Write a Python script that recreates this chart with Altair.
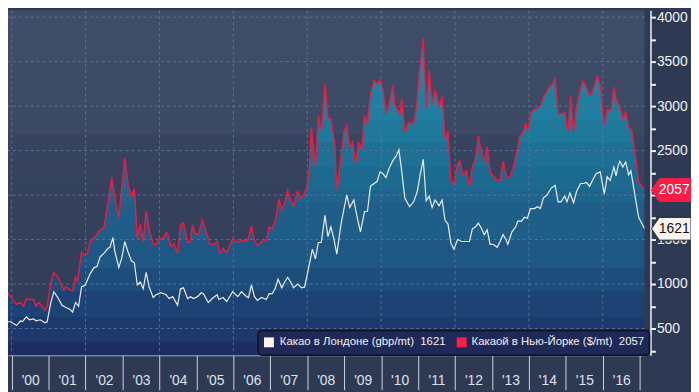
import altair as alt
import pandas as pd

# ---- data (decimal year, price) ----
ny_year = [
    1999.79, 1999.92, 1999.97,
    2000.13, 2000.24, 2000.32, 2000.40, 2000.51, 2000.59, 2000.66, 2000.74, 2000.90, 2000.96,
    2001.06, 2001.14, 2001.25, 2001.41, 2001.46, 2001.65, 2001.73, 2001.78, 2001.89, 2001.97,
    2002.05, 2002.13, 2002.26, 2002.37, 2002.50, 2002.61, 2002.71, 2002.82, 2002.90,
    2003.06, 2003.16, 2003.24, 2003.32, 2003.40, 2003.48, 2003.56, 2003.64, 2003.72, 2003.83, 2003.91, 2003.99,
    2004.10, 2004.18, 2004.23, 2004.31, 2004.39, 2004.49, 2004.57, 2004.65, 2004.76, 2004.84, 2004.89, 2004.97,
    2005.05, 2005.16, 2005.29, 2005.37, 2005.45, 2005.56, 2005.64, 2005.72, 2005.82, 2005.98,
    2006.12, 2006.22, 2006.38, 2006.49, 2006.57, 2006.65, 2006.78, 2006.89, 2006.97,
    2007.05, 2007.15, 2007.23, 2007.31, 2007.39, 2007.47, 2007.55, 2007.63, 2007.74, 2007.82, 2007.90, 2007.98,
    2008.06, 2008.11, 2008.22, 2008.30, 2008.38, 2008.48, 2008.56, 2008.64, 2008.75, 2008.80, 2008.91, 2008.99,
    2009.07, 2009.15, 2009.23, 2009.31, 2009.39, 2009.47, 2009.55, 2009.63, 2009.71, 2009.81, 2009.89, 2009.97,
    2010.05, 2010.13, 2010.21, 2010.32, 2010.37, 2010.51, 2010.56, 2010.64, 2010.74, 2010.88, 2010.96,
    2011.04, 2011.14, 2011.22, 2011.30, 2011.38, 2011.46, 2011.57, 2011.65, 2011.73, 2011.81, 2011.89, 2011.97,
    2012.07, 2012.13, 2012.21, 2012.31, 2012.39, 2012.47, 2012.55, 2012.63, 2012.71, 2012.79, 2012.87, 2012.95,
    2013.03, 2013.14, 2013.22, 2013.30, 2013.40, 2013.48, 2013.59, 2013.67, 2013.75, 2013.83, 2013.91, 2013.96,
    2014.07, 2014.18, 2014.31, 2014.41, 2014.55, 2014.63, 2014.71, 2014.79, 2014.87, 2014.97,
    2015.05, 2015.13, 2015.21, 2015.29, 2015.45, 2015.53, 2015.64, 2015.69, 2015.80, 2015.85, 2015.93,
    2016.04, 2016.12, 2016.22, 2016.30, 2016.38, 2016.46, 2016.54, 2016.62, 2016.70, 2016.78, 2016.89, 2016.97,
    2017.05, 2017.13,
]
ny_price = [
    960, 880, 858,
    772, 793, 750, 837, 826, 826, 750, 793, 706, 750,
    1010, 1130, 1076, 935, 967, 924, 1076, 1022, 1359, 1326,
    1348, 1478, 1533, 1598, 1641, 1913, 2200, 1900, 1750,
    2413, 2098, 1989, 2076, 1511, 1674, 1478, 1826, 1620, 1446, 1446, 1511,
    1511, 1576, 1555, 1424, 1450, 1348, 1663, 1685, 1467, 1478, 1663, 1565,
    1555, 1717, 1555, 1446, 1440, 1478, 1348, 1402, 1348, 1511,
    1467, 1490, 1480, 1652, 1490, 1435, 1480, 1485, 1641,
    1620, 1728, 1956, 1826, 1913, 2054, 1945, 1880, 2043, 1967, 2000, 2076,
    2315, 2761, 2326, 2891, 2728, 3250, 2869, 2858, 2565, 2054, 2424, 2707,
    2783, 2533, 2598, 2359, 2598, 2511, 2891, 2804, 3141, 3293, 3250, 3293,
    3185, 2924, 3000, 3239, 3010, 2913, 3087, 2707, 2815, 2800, 3000,
    3402, 3761, 2978, 3402, 3022, 3185, 3000, 3109, 2652, 2707, 2163, 2130,
    2348, 2380, 2228, 2272, 2098, 2315, 2402, 2663, 2500, 2391, 2544, 2261,
    2217, 2163, 2170, 2380, 2196, 2196, 2326, 2489, 2652, 2696, 2804, 2728,
    2935, 2967, 3000, 3109, 3217, 3239, 3315, 2913, 2913, 2924,
    2707, 3109, 2707, 3000, 3283, 3239, 3120, 3130, 3272, 3337, 3239,
    2783, 2957, 2957, 3217, 3054, 3000, 2858, 2935, 2761, 2728, 2424, 2141,
    2109, 2057,
]
ldn_year = [
    1999.79, 1999.84, 1999.97,
    2000.13, 2000.24, 2000.29, 2000.40, 2000.48, 2000.59, 2000.66, 2000.77, 2000.90, 2000.96,
    2001.06, 2001.14, 2001.25, 2001.36, 2001.46, 2001.57, 2001.65, 2001.73, 2001.81, 2001.89, 2001.99,
    2002.13, 2002.23, 2002.31, 2002.39, 2002.50, 2002.61, 2002.66, 2002.74, 2002.79, 2002.90, 2002.98,
    2003.06, 2003.16, 2003.24, 2003.32, 2003.40, 2003.48, 2003.56, 2003.64, 2003.72, 2003.83, 2003.91,
    2004.04, 2004.18, 2004.26, 2004.36, 2004.49, 2004.57, 2004.65, 2004.76, 2004.84, 2004.92,
    2005.03, 2005.13, 2005.19, 2005.32, 2005.43, 2005.56, 2005.61, 2005.72, 2005.82, 2005.98,
    2006.12, 2006.22, 2006.36, 2006.41, 2006.49, 2006.57, 2006.65, 2006.76, 2006.89, 2006.97,
    2007.05, 2007.13, 2007.21, 2007.31, 2007.39, 2007.47, 2007.55, 2007.63, 2007.74, 2007.85, 2007.93, 2007.98,
    2008.06, 2008.14, 2008.22, 2008.30, 2008.38, 2008.48, 2008.56, 2008.64, 2008.72, 2008.80, 2008.91, 2008.99,
    2009.07, 2009.15, 2009.26, 2009.34, 2009.44, 2009.55, 2009.63, 2009.71, 2009.81, 2009.89, 2009.97,
    2010.05, 2010.13, 2010.21, 2010.32, 2010.40, 2010.48, 2010.56, 2010.64, 2010.77, 2010.88, 2010.98,
    2011.06, 2011.14, 2011.22, 2011.30, 2011.38, 2011.46, 2011.57, 2011.65, 2011.73, 2011.81, 2011.89, 2011.97,
    2012.07, 2012.18, 2012.31, 2012.39, 2012.47, 2012.55, 2012.63, 2012.71, 2012.79, 2012.87, 2012.95,
    2013.03, 2013.14, 2013.22, 2013.30, 2013.38, 2013.43, 2013.54, 2013.64, 2013.70, 2013.80, 2013.88, 2013.96,
    2014.04, 2014.15, 2014.23, 2014.31, 2014.39, 2014.49, 2014.60, 2014.71, 2014.79, 2014.87, 2014.97,
    2015.03, 2015.11, 2015.21, 2015.29, 2015.40, 2015.48, 2015.56, 2015.64, 2015.72, 2015.82, 2015.93,
    2016.04, 2016.12, 2016.20, 2016.30, 2016.36, 2016.41, 2016.46, 2016.54, 2016.62, 2016.70, 2016.76, 2016.86, 2016.97,
    2017.13,
]
ldn_price = [
    587, 576, 576,
    533, 587, 576, 630, 598, 609, 587, 598, 565, 576,
    793, 913, 848, 761, 739, 717, 685, 793, 750, 967, 989,
    1120, 1185, 1196, 1304, 1348, 1402, 1413, 1522, 1370, 1185, 1293,
    1478, 1348, 1261, 1239, 989, 1022, 946, 1130, 967, 848, 880,
    902, 880, 837, 858, 761, 946, 957, 837, 858, 837,
    858, 902, 891, 793, 837, 880, 826, 848, 804, 913,
    858, 913, 858, 848, 989, 858, 815, 848, 826, 891,
    891, 946, 1054, 957, 1022, 1076, 1022, 957, 1000, 957, 967, 1065,
    1228, 1391, 1283, 1467, 1467, 1772, 1533, 1641, 1511, 1337, 1663, 1837,
    2000, 1859, 1945, 1772, 1587, 1815, 1815, 2098, 2130, 2152, 2261,
    2239, 2196, 2293, 2391, 2435, 2511, 2261, 1967, 1869, 1924, 2043,
    2239, 2402, 1935, 1989, 1859, 1945, 1880, 1945, 1717, 1674, 1457, 1391,
    1500, 1478, 1478, 1478, 1620, 1641, 1685, 1630, 1555, 1609, 1446,
    1446, 1413, 1478, 1555, 1500, 1446, 1587, 1641, 1707, 1707, 1750, 1740,
    1848, 1848, 1870, 1848, 1967, 2000, 2076, 2109, 1924, 1924, 1989,
    1924, 2022, 1913, 2043, 2130, 2130, 2141, 2098, 2163, 2239, 2261,
    2011, 2206, 2163, 2315, 2217, 2326, 2380, 2315, 2370, 2228, 2272, 2022, 1750,
    1621,
]
assert len(ny_year) == len(ny_price)
assert len(ldn_year) == len(ldn_price)

year_ticks = list(range(2000, 2018))
grid_years = list(range(2000, 2017, 2))
price_ticks = list(range(250, 4001, 250))
grid_prices = list(range(500, 4001, 500))
series_names = ["Какао в Лондоне (gbp/mt)", "Какаой в Нью-Йорке ($/mt)"]

# ---- styling ----
W, H = 644, 349
FONT = "Liberation Sans"
CHART_BG = "#2e3a53"
NY_RED = "#ec1a42"
LDN_WHITE = "#e9eef4"
GRID = "#56799a"

area_bands = [
    (0.000, "#2489ab"), (0.162, "#2081a2"),
    (0.162, "#1f7fa0"), (0.244, "#1f7fa0"),
    (0.244, "#1e799b"), (0.311, "#1e799b"),
    (0.311, "#1e7195"), (0.385, "#1e7195"),
    (0.385, "#1d6a90"), (0.449, "#1d6a90"),
    (0.449, "#1e648c"), (0.488, "#1e648c"),
    (0.488, "#1f5e89"), (0.601, "#1f5e89"),
    (0.601, "#1e5684"), (0.687, "#1e5684"),
    (0.687, "#1d4d7d"), (0.754, "#1d4d7d"),
    (0.754, "#1d4375"), (0.833, "#1d4375"),
    (0.833, "#1c386c"), (0.906, "#1c386c"),
    (0.906, "#1c2e63"), (1.000, "#1b2a5e"),
]
bg_bands = [
    (0.000, "#3f4d69"), (0.362, "#3c4965"),
    (0.362, "#37445f"), (1.000, "#303c57"),
]


def grad(stops):
    return alt.LinearGradient(
        gradient="linear",
        stops=[alt.GradientStop(offset=o, color=c) for o, c in stops],
        x1=0, x2=0, y1=0, y2=1,
    )


x_enc = alt.X(
    "t:Q",
    scale=alt.Scale(domain=[1999.9, 2017.13], nice=False, zero=False),
    axis=alt.Axis(
        values=year_ticks, title=None, grid=False,
        domain=True, domainColor="#e6ebf2", domainWidth=1,
        ticks=True, tickSize=35, tickColor="#cfd6e0", tickWidth=1,
        labelExpr="datum.value < 2017 ? \"'\" + substring(toString(datum.value), 2, 4) : ''",
        labelOffset=18.7, labelPadding=-9, labelBaseline="middle",
        labelFontSize=14, labelColor="#dde3ec", labelFont=FONT,
        labelFlush=False, labelOverlap=False, labelBound=False,
    ),
)
y_enc = alt.Y(
    "v:Q",
    scale=alt.Scale(domain=[200, 4078], nice=False, zero=False),
    axis=alt.Axis(
        orient="right", values=price_ticks, title=None, grid=False, offset=6,
        domainColor="#f2f4f8", domainWidth=1.5,
        tickColor="#f2f4f8", tickSize=5, tickWidth=2,
        labelExpr="datum.value % 500 === 0 ? toString(datum.value) : ''",
        labelFontSize=14, labelColor="#eef1f5", labelFont=FONT, labelPadding=1,
        labelFlush=False, labelOverlap=False, labelBound=False,
    ),
)

ny_df = pd.DataFrame({"t": ny_year, "v": ny_price})
ldn_df = pd.DataFrame({"t": ldn_year, "v": ldn_price})
one = pd.DataFrame({"k": [0]})

bg = alt.Chart(one).mark_rect(fill=grad(bg_bands)).encode(
    x=alt.value(0), x2=alt.value(W), y=alt.value(0), y2=alt.value(H)
)
area = alt.Chart(ny_df).mark_area(clip=True, color=grad(area_bands)).encode(x=x_enc, y=y_enc)

grid_v = alt.Chart(pd.DataFrame({"t": grid_years})).mark_rule(
    color=GRID, strokeDash=[3, 3], strokeWidth=1, opacity=0.9
).encode(x=x_enc)
grid_h = alt.Chart(pd.DataFrame({"v": grid_prices})).mark_rule(
    color=GRID, strokeDash=[3, 3], strokeWidth=1, opacity=0.9
).encode(y=y_enc)

ldn_line = alt.Chart(ldn_df).mark_line(clip=True, color=LDN_WHITE, strokeWidth=1.2).encode(x=x_enc, y=y_enc)
ny_line = alt.Chart(ny_df).mark_line(clip=True, color=NY_RED, strokeWidth=1.5).encode(x=x_enc, y=y_enc)

# legend box
leg_box = alt.Chart(one).mark_rect(
    fill="#1e2957", stroke="#0b0f1f", strokeWidth=1.5, cornerRadius=4
).encode(x=alt.value(253), x2=alt.value(649), y=alt.value(324), y2=alt.value(349))

sp = "\u00a0\u00a0"
leg_items = []
for name, last, col, sx, tx in [
    (series_names[0], ldn_price[-1], "#fff1ec", 264, 275),
    (series_names[1], ny_price[-1], "#ff1f44", 459, 469),
]:
    leg_items.append(
        alt.Chart(one).mark_point(shape="square", size=100, filled=True, opacity=1, color=col).encode(
            x=alt.value(sx), y=alt.value(336)
        )
    )
    leg_items.append(
        alt.Chart(pd.DataFrame({"lab": [f"{name}{sp}{last}"]})).mark_text(
            align="left", baseline="middle", font=FONT, fontSize=11.5, color="#f2f2f2"
        ).encode(x=alt.value(tx), y=alt.value(336), text="lab:N")
    )

# end-of-line tags
TAG = "M -1 0 L -0.6 -0.575 L 1 -0.575 L 1 0.575 L -0.6 0.575 Z"
tags = []
for last, fill, stroke, tcol in [
    (ny_price[-1], "#fb1d45", "#fb1d45", "#ffffff"),
    (ldn_price[-1], "#fdf4ee", "#2a2a2a", "#111111"),
]:
    tdf = pd.DataFrame({"v": [last], "lab": [str(last)]})
    tags.append(
        alt.Chart(tdf).mark_point(
            shape=TAG, size=1600, filled=True, fill=fill, stroke=stroke, strokeWidth=1, opacity=1
        ).encode(x=alt.value(671), y=y_enc)
    )
    tags.append(
        alt.Chart(tdf).mark_text(
            align="center", baseline="middle", font=FONT, fontSize=14, color=tcol
        ).encode(x=alt.value(674), y=y_enc, text="lab:N")
    )

chart = alt.layer(
    bg, area, grid_v, grid_h, ldn_line, ny_line, leg_box, *leg_items, *tags
).properties(
    width=W, height=H,
    padding={"left": 0, "top": 0, "right": 47, "bottom": 35},
    autosize=alt.AutoSizeParams(type="none"),
    background=CHART_BG,
).configure_view(stroke=None)

chart.save("out.html", embed_options={"renderer": "svg", "actions": False})
